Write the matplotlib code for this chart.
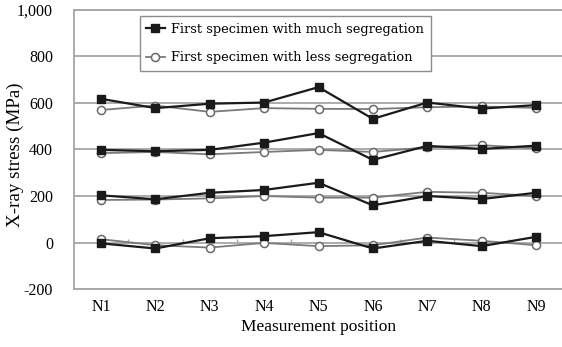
import numpy as np
import matplotlib.pyplot as plt

positions = ["N1", "N2", "N3", "N4", "N5", "N6", "N7", "N8", "N9"]

# much segregation (black squares), four stress levels
much_600 = [617, 577, 596, 601, 667, 531, 601, 575, 590]
much_400 = [398, 392, 398, 429, 470, 355, 415, 402, 416]
much_200 = [203, 186, 214, 226, 257, 160, 200, 187, 214]
much_0 = [-3, -25, 19, 28, 45, -25, 8, -15, 25]

# less segregation (gray open circles)
less_600 = [569, 588, 561, 577, 574, 573, 581, 584, 578]
less_400 = [384, 389, 379, 389, 398, 389, 409, 418, 405]
less_200 = [183, 185, 190, 200, 193, 193, 218, 214, 200]
less_0 = [15, -11, -21, -1, -15, -11, 22, 8, -11]

yticks = [-200, 0, 200, 400, 600, 800, 1000]
ytick_labels = ["-200", "0", "200", "400", "600", "800", "1,000"]

serif = "Liberation Serif"
grid_c = "#a6a6a6"

fig = plt.figure(figsize=(5.62, 3.47), dpi=100)
ax = fig.add_axes([73.8 / 562, 1 - 289.3 / 347, (563.2 - 73.8) / 562, (289.3 - 9.5) / 347])

x = np.arange(1, len(positions) + 1)

for yy in yticks:
    ax.axhline(yy, color=grid_c, lw=1.3, zorder=1)
# small category ticks on the zero line
ax.vlines(np.arange(1.5, 9.5, 1.0), 0, 17, color=grid_c, lw=1.0, zorder=1)

less_style = dict(color="#7a7a7a", lw=1.3, marker="o", ms=5.8, mfc="white",
                  mec="#6a6a6a", mew=1.1, zorder=3)
much_style = dict(color="#1a1a1a", lw=1.6, marker="s", ms=5.8, mfc="#1a1a1a",
                  mec="#1a1a1a", zorder=4)

l2 = None
for s in [less_600, less_400, less_200, less_0]:
    l2, = ax.plot(x, s, **less_style)
l1 = None
for s in [much_600, much_400, much_200, much_0]:
    l1, = ax.plot(x, s, **much_style)

ax.set_xlim(0.5, 9.5)
ax.set_ylim(-200, 1000)
ax.set_xticks(x)
ax.set_xticklabels(positions, family=serif, fontsize=11.5)
ax.set_yticks(yticks)
ax.set_yticklabels(ytick_labels, family=serif, fontsize=11.5)
ax.tick_params(axis="both", length=0)
ax.tick_params(axis="y", pad=15)
ax.tick_params(axis="x", pad=7)

for sp in ax.spines.values():
    sp.set_color(grid_c)
    sp.set_linewidth(1.3)
ax.spines["right"].set_visible(False)

ax.set_ylabel("X-ray stress (MPa)", family=serif, fontsize=13.7)
ax.yaxis.set_label_coords((24 - 73.8) / 489.4, 0.48)
ax.set_xlabel("Measurement position", family=serif, fontsize=12.5, labelpad=3)

leg = ax.legend([l1, l2],
                ["First specimen with much segregation",
                 "First specimen with less segregation"],
                loc="upper left", bbox_to_anchor=(66 / 489.4, 1 - 6.5 / 279.8),
                borderaxespad=0,
                prop={"family": "DejaVu Serif", "size": 9.4},
                handlelength=1.4, handletextpad=0.5, borderpad=0.5,
                labelspacing=1.2, fancybox=False, framealpha=1,
                edgecolor="#8c8c8c")
leg.get_frame().set_linewidth(1.0)

fig.savefig("out.png", dpi=100)
